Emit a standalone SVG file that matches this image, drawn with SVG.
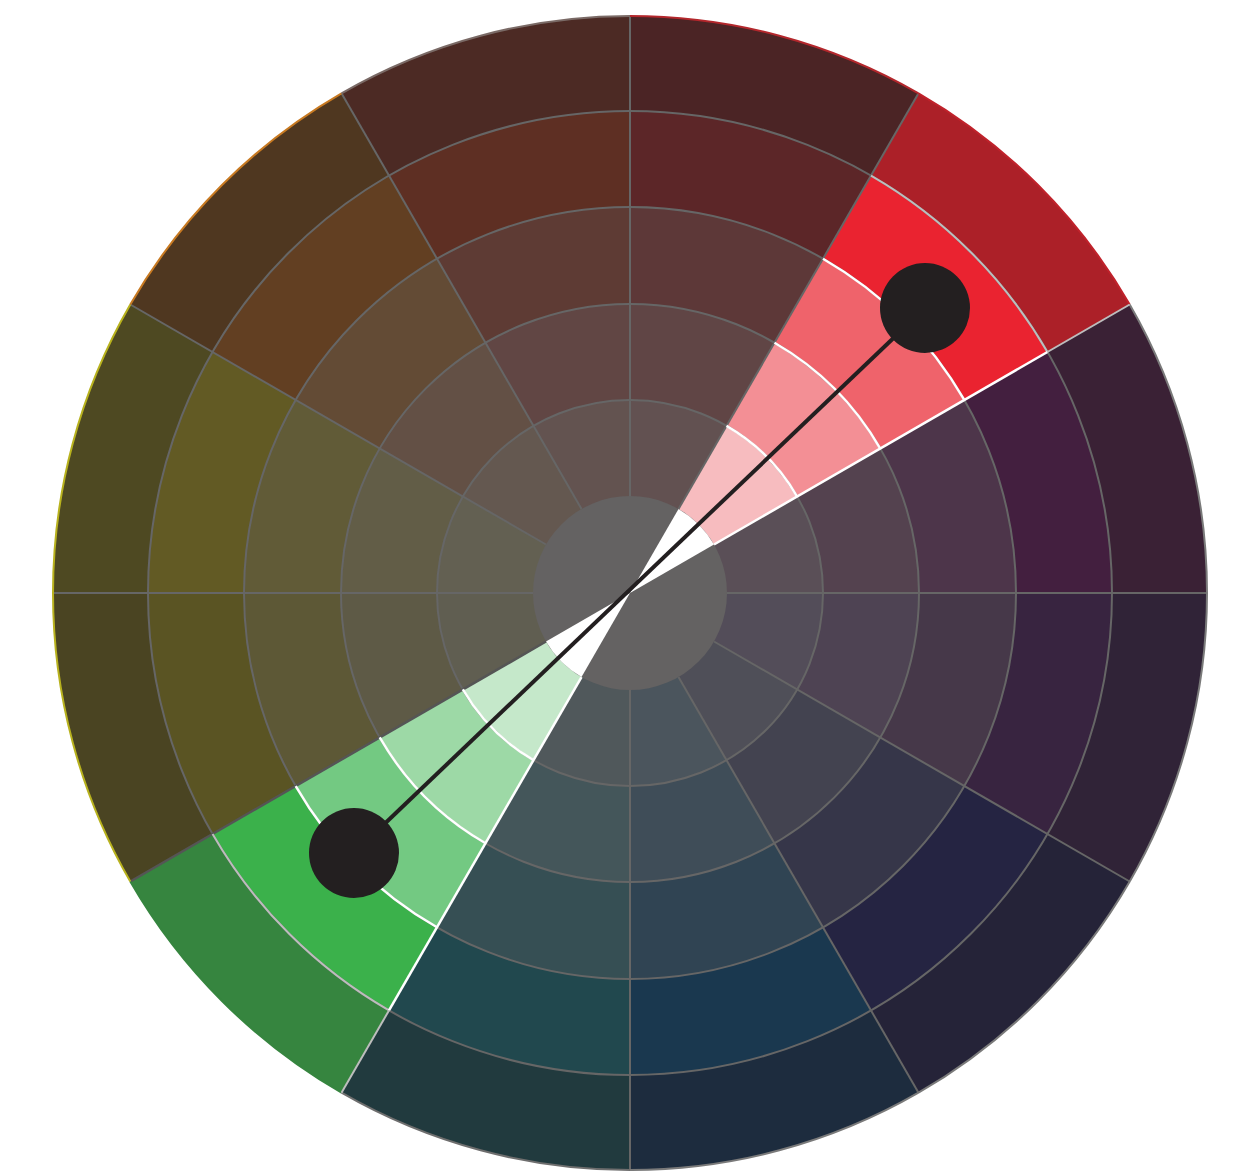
<svg xmlns="http://www.w3.org/2000/svg" xmlns:xlink="http://www.w3.org/1999/xlink" width="1244" height="1171" viewBox="0 0 1244 1171">
<style>
.grid{fill:none;stroke:#666;stroke-width:2}
.hl{fill:none;stroke:#fff;stroke-width:2.5}
.hlo{fill:none;stroke:#bdbdbd;stroke-width:2}
.rim{fill:none;stroke-width:2}
.dot{fill:#231f20}
.conn{stroke:#231f20;stroke-width:4;fill:none}
</style>
<defs>
<path id="wA" d="M630 593 L630 16 A577 577 0 0 1 918.5 93.3 Z"/>
<path id="wB" d="M630 593 L630 111 A482 482 0 0 1 871 175.58 Z"/>
<path id="wC" d="M630 593 L630 207 A386 386 0 0 1 823 258.71 Z"/>
<path id="wD" d="M630 593 L630 304 A289 289 0 0 1 774.5 342.72 Z"/>
<path id="wE" d="M630 593 L630 400 A193 193 0 0 1 726.5 425.86 Z"/>
<path id="wF" d="M630 593 L630 496 A97 97 0 0 1 678.5 509 Z"/>
<path id="aA" d="M630 16 A577 577 0 0 1 918.5 93.3"/>
<path id="aB" d="M630 111 A482 482 0 0 1 871 175.58"/>
<path id="aC" d="M630 207 A386 386 0 0 1 823 258.71"/>
<path id="aD" d="M630 304 A289 289 0 0 1 774.5 342.72"/>
<path id="aE" d="M630 400 A193 193 0 0 1 726.5 425.86"/>
<path id="rad" d="M630 496 V16"/>
<path id="radIn" d="M630 496 V111"/>
<path id="radOut" d="M630 111 V16"/>
</defs>
<rect width="1244" height="1171" fill="#fff"/>
<g id="sector-0">
<use href="#wA" fill="#4b2425"/><use href="#wB" fill="#5c2628"/><use href="#wC" fill="#5d3838"/><use href="#wD" fill="#604545"/><use href="#wE" fill="#625151"/>
</g>
<g id="sector-1" transform="rotate(30 630 593)">
<use href="#wA" fill="#ac2028"/><use href="#wB" fill="#ea2330"/><use href="#wC" fill="#ef636b"/><use href="#wD" fill="#f38f95"/><use href="#wE" fill="#f7bcbf"/>
</g>
<g id="sector-2" transform="rotate(60 630 593)">
<use href="#wA" fill="#3a2135"/><use href="#wB" fill="#431f3f"/><use href="#wC" fill="#4d354a"/><use href="#wD" fill="#54424f"/><use href="#wE" fill="#5a4f57"/>
</g>
<g id="sector-3" transform="rotate(90 630 593)">
<use href="#wA" fill="#302337"/><use href="#wB" fill="#382440"/><use href="#wC" fill="#463849"/><use href="#wD" fill="#4e4353"/><use href="#wE" fill="#534d59"/>
</g>
<g id="sector-4" transform="rotate(120 630 593)">
<use href="#wA" fill="#252338"/><use href="#wB" fill="#252442"/><use href="#wC" fill="#363649"/><use href="#wD" fill="#434350"/><use href="#wE" fill="#4f4f58"/>
</g>
<g id="sector-5" transform="rotate(150 630 593)">
<use href="#wA" fill="#1d2c3e"/><use href="#wB" fill="#1a384f"/><use href="#wC" fill="#304453"/><use href="#wD" fill="#3f4d58"/><use href="#wE" fill="#4b555d"/>
</g>
<g id="sector-6" transform="rotate(180 630 593)">
<use href="#wA" fill="#213a3e"/><use href="#wB" fill="#21484e"/><use href="#wC" fill="#364f54"/><use href="#wD" fill="#44565a"/><use href="#wE" fill="#50585b"/>
</g>
<g id="sector-7" transform="rotate(210 630 593)">
<use href="#wA" fill="#36853f"/><use href="#wB" fill="#3bb14b"/><use href="#wC" fill="#73c982"/><use href="#wD" fill="#9dd9a6"/><use href="#wE" fill="#c5e8ca"/>
</g>
<g id="sector-8" transform="rotate(240 630 593)">
<use href="#wA" fill="#4a4422"/><use href="#wB" fill="#5a5423"/><use href="#wC" fill="#5d5836"/><use href="#wD" fill="#5e5a46"/><use href="#wE" fill="#605e51"/>
</g>
<g id="sector-9" transform="rotate(270 630 593)">
<use href="#wA" fill="#4e4922"/><use href="#wB" fill="#625a24"/><use href="#wC" fill="#615b37"/><use href="#wD" fill="#625d47"/><use href="#wE" fill="#636052"/>
</g>
<g id="sector-10" transform="rotate(300 630 593)">
<use href="#wA" fill="#4f3720"/><use href="#wB" fill="#623f22"/><use href="#wC" fill="#634b35"/><use href="#wD" fill="#635045"/><use href="#wE" fill="#645850"/>
</g>
<g id="sector-11" transform="rotate(330 630 593)">
<use href="#wA" fill="#4c2a24"/><use href="#wB" fill="#5e2f23"/><use href="#wC" fill="#5e3b34"/><use href="#wD" fill="#614644"/><use href="#wE" fill="#635350"/>
</g>
<g id="center">
<circle cx="630" cy="593" r="97" fill="#646262"/>
<use href="#wF" fill="#fff" transform="rotate(30 630 593)"/>
<use href="#wF" fill="#fff" transform="rotate(210 630 593)"/>
</g>
<g id="grid">
<circle class="grid" cx="630" cy="593" r="193"/>
<circle class="grid" cx="630" cy="593" r="289"/>
<circle class="grid" cx="630" cy="593" r="386"/>
<circle class="grid" cx="630" cy="593" r="482"/>
<use href="#rad" class="grid"/>
<use href="#rad" class="grid" transform="rotate(30 630 593)"/>
<use href="#rad" class="grid" transform="rotate(90 630 593)"/>
<use href="#rad" class="grid" transform="rotate(120 630 593)"/>
<use href="#rad" class="grid" transform="rotate(150 630 593)"/>
<use href="#rad" class="grid" transform="rotate(180 630 593)"/>
<use href="#rad" style="fill:none;stroke:#555;stroke-width:2.5" transform="rotate(240 630 593)"/>
<use href="#rad" class="grid" transform="rotate(270 630 593)"/>
<use href="#rad" class="grid" transform="rotate(300 630 593)"/>
<use href="#rad" class="grid" transform="rotate(330 630 593)"/>
</g>
<g id="rims">
<use href="#aA" class="rim" stroke="#b3272c"/>
<use href="#aA" class="rim" stroke="#c0222b" transform="rotate(30 630 593)"/>
<use href="#aA" class="rim" stroke="#7a7a7a" transform="rotate(60 630 593)"/>
<use href="#aA" class="rim" stroke="#7a7a7a" transform="rotate(90 630 593)"/>
<use href="#aA" class="rim" stroke="#7a7a7a" transform="rotate(120 630 593)"/>
<use href="#aA" class="rim" stroke="#7a7a7a" transform="rotate(150 630 593)"/>
<use href="#aA" class="rim" stroke="#6e6e6e" transform="rotate(180 630 593)"/>
<use href="#aA" class="rim" stroke="#36853f" transform="rotate(210 630 593)"/>
<use href="#aA" class="rim" stroke="#b8b21e" transform="rotate(240 630 593)"/>
<use href="#aA" class="rim" stroke="#b8b21e" transform="rotate(270 630 593)"/>
<use href="#aA" class="rim" stroke="#c87a22" transform="rotate(300 630 593)"/>
<use href="#aA" class="rim" stroke="#7a6a66" transform="rotate(330 630 593)"/>
</g>
<g id="highlight-red" transform="rotate(30 630 593)">
<use href="#aB" class="hlo"/>
<use href="#aC" class="hl"/>
<use href="#aD" class="hl"/>
<use href="#aE" class="hl"/>
</g>
<g id="highlight-green" transform="rotate(210 630 593)">
<use href="#aB" class="hlo"/>
<use href="#aC" class="hl"/>
<use href="#aD" class="hl"/>
<use href="#aE" class="hl"/>
</g>
<g id="highlight-edges">
<use href="#radIn" class="hl" transform="rotate(60 630 593)"/>
<use href="#radOut" class="hlo" transform="rotate(60 630 593)"/>
<use href="#radIn" class="hl" transform="rotate(210 630 593)"/>
<use href="#radOut" class="hlo" transform="rotate(210 630 593)"/>
</g>
<g id="connectors">
<line class="conn" x1="925" y1="308" x2="354" y2="853"/>
</g>
<g id="dot-red"><circle class="dot" cx="925" cy="308" r="45"/></g>
<g id="dot-green"><circle class="dot" cx="354" cy="853" r="45"/></g>
</svg>
